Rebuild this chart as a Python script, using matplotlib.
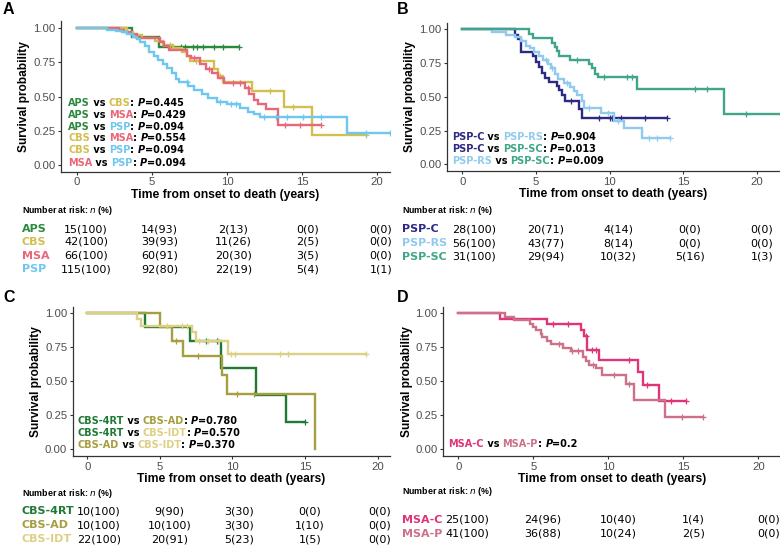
import numpy as np
import matplotlib
matplotlib.use('Agg')
from matplotlib import pyplot as plt
from matplotlib.offsetbox import TextArea, HPacker, AnnotationBbox

plt.rcParams['font.family'] = ['Liberation Sans', 'DejaVu Sans']

# ---- colours of the groups
colors = {
    'APS': '#2b8a3e', 'CBS': '#d2bf4e', 'MSA': '#e8687a', 'PSP': '#6dc7ee',
    'PSP-C': '#2d2a82', 'PSP-RS': '#90cbee', 'PSP-SC': '#3fa68a',
    'CBS-4RT': '#1f7a35', 'CBS-AD': '#a59f3f', 'CBS-IDT': '#ddd086',
    'MSA-C': '#df3578', 'MSA-P': '#cd7089',
}

# ---- panel A curves (time in years, survival after each step)
aps_t = [0, 3.65, 5.45, 10.8]
aps_s = [1, 0.933, 0.867, 0.867]
aps_c = [6.2, 6.9, 7.2, 7.7, 8.0, 8.4, 9.1, 9.7, 10.8]

cbs_t = [0, 3.3, 3.7, 4.3, 5.2, 5.7, 6.4, 7.0, 7.3, 7.55, 9.1, 9.4, 9.7, 11.7, 13.8, 15.7, 19.3]
cbs_s = [1, 0.976, 0.952, 0.928, 0.904, 0.88, 0.856, 0.83, 0.80, 0.76, 0.70, 0.65, 0.61, 0.544, 0.427, 0.22, 0.22]
cbs_c = [6.2, 7.9, 9.5, 12.9, 14.4, 19.3]

msa_t = [0, 2.8, 3.1, 3.6, 4.0, 5.5, 5.8, 6.1, 7.3, 7.6, 8.2, 8.6, 9.0, 9.4, 9.8, 11.2, 11.5, 11.8, 12.1, 12.6, 13.4, 16.3]
msa_s = [1, 0.985, 0.97, 0.955, 0.93, 0.90, 0.87, 0.84, 0.80, 0.78, 0.74, 0.70, 0.67, 0.64, 0.60, 0.56, 0.52, 0.476, 0.444, 0.407, 0.293, 0.293]
msa_c = [7.8, 8.8, 10.4, 10.9, 11.4, 13.9, 14.9, 16.3]

psp_t = [0, 2.0, 2.6, 3.0, 3.3, 3.7, 4.0, 4.2, 4.5, 4.8, 5.1, 5.4, 5.7, 6.0, 6.3, 6.6, 6.8, 7.4, 7.8, 8.3,
         8.7, 9.3, 10.0, 10.9, 11.4, 11.8, 12.2, 18.0, 20.9]
psp_s = [1, 0.99, 0.98, 0.97, 0.96, 0.94, 0.92, 0.90, 0.87, 0.83, 0.80, 0.77, 0.74, 0.71, 0.67, 0.63, 0.61, 0.58,
         0.55, 0.52, 0.49, 0.46, 0.444, 0.42, 0.39, 0.37, 0.349, 0.232, 0.232]
psp_c = [7.3, 9.5, 10.3, 10.6, 12.5, 13.3, 14.0, 15.1, 16.3, 19.3, 20.9]

# ---- panel B curves
pspc_t = [0, 3.58, 3.8, 4.0, 4.8, 5.0, 5.2, 5.4, 5.6, 5.9, 6.4, 6.6, 6.8, 7.0, 7.9, 8.1, 13.9]
pspc_s = [1, 0.96, 0.93, 0.835, 0.80, 0.76, 0.72, 0.68, 0.64, 0.61, 0.58, 0.55, 0.51, 0.47, 0.41, 0.34, 0.34]
pspc_c = [7.4, 9.3, 10.0, 10.2, 10.8, 12.4, 13.9]

psprs_t = [0, 2.0, 3.0, 3.6, 4.0, 4.3, 4.6, 4.9, 5.2, 5.5, 5.8, 6.0, 6.3, 6.5, 6.9, 7.3, 7.6, 7.8, 8.1, 8.3,
           9.4, 10.3, 11.0, 12.2, 14.1]
psprs_s = [1, 0.98, 0.96, 0.94, 0.91, 0.88, 0.86, 0.83, 0.80, 0.77, 0.74, 0.71, 0.67, 0.63, 0.60, 0.57, 0.54,
           0.51, 0.47, 0.42, 0.38, 0.32, 0.267, 0.198, 0.198]
psprs_c = [5.7, 6.1, 7.1, 8.6, 9.9, 10.6, 12.7, 13.2, 14.1]

pspsc_t = [0, 4.5, 4.8, 6.1, 6.3, 6.45, 6.6, 7.3, 8.6, 8.8, 9.0, 9.2, 11.9, 17.8, 21.6]
pspsc_s = [1, 0.968, 0.935, 0.90, 0.87, 0.84, 0.80, 0.77, 0.74, 0.71, 0.67, 0.645, 0.56, 0.37, 0.37]
pspsc_c = [7.8, 9.6, 11.2, 11.5, 15.8, 16.6, 19.3]

# ---- panel C curves
c4rt_t = [0, 3.97, 7.1, 9.2, 11.6, 13.7, 15.0]
c4rt_s = [1, 0.9, 0.8, 0.6, 0.4, 0.2, 0.2]
c4rt_c = [8.2, 8.9, 15.0]

cad_t = [0, 5.0, 5.85, 6.6, 9.25, 9.6, 15.7]
cad_s = [1, 0.9, 0.8, 0.686, 0.549, 0.41, 0.0]
cad_c = [6.1, 7.6, 10.3, 11.5]

cidt_t = [0, 3.45, 3.7, 7.2, 7.5, 9.7, 19.2]
cidt_s = [1, 0.955, 0.91, 0.865, 0.80, 0.70, 0.70]
cidt_c = [5.5, 6.5, 6.9, 7.7, 8.3, 9.0, 9.9, 10.2, 13.3, 13.8, 19.2]

# ---- panel D curves
msac_t = [0, 2.8, 5.9, 8.2, 8.4, 8.6, 9.4, 12.0, 12.3, 13.4, 15.2]
msac_s = [1, 0.96, 0.92, 0.875, 0.83, 0.73, 0.66, 0.565, 0.47, 0.355, 0.355]
msac_c = [6.3, 7.3, 8.5, 8.9, 9.2, 11.4, 12.6, 14.2, 15.2]

msap_t = [0, 3.1, 3.7, 4.8, 5.0, 5.2, 5.5, 5.6, 5.9, 6.2, 7.0, 7.5, 8.3, 8.5, 8.7, 9.2, 9.6, 11.2, 11.7, 13.8, 16.3]
msap_s = [1, 0.975, 0.95, 0.925, 0.90, 0.875, 0.85, 0.825, 0.80, 0.775, 0.745, 0.72, 0.68, 0.65, 0.62, 0.595,
          0.545, 0.48, 0.36, 0.24, 0.24]
msap_c = [6.7, 7.6, 8.0, 9.0, 10.4, 11.4, 14.9, 16.3]

# ---- p-values
pvals_a = [('APS', 'CBS', '0.445'), ('APS', 'MSA', '0.429'), ('APS', 'PSP', '0.094'),
           ('CBS', 'MSA', '0.554'), ('CBS', 'PSP', '0.094'), ('MSA', 'PSP', '0.094')]
pvals_b = [('PSP-C', 'PSP-RS', '0.904'), ('PSP-C', 'PSP-SC', '0.013'), ('PSP-RS', 'PSP-SC', '0.009')]
pvals_c = [('CBS-4RT', 'CBS-AD', '0.780'), ('CBS-4RT', 'CBS-IDT', '0.570'), ('CBS-AD', 'CBS-IDT', '0.370')]
pvals_d = [('MSA-C', 'MSA-P', '0.2')]

# ---- numbers at risk at 0, 5, 10, 15, 20 years
risk_times = [0, 5, 10, 15, 20]
risk_a = {'APS': ['15(100)', '14(93)', '2(13)', '0(0)', '0(0)'],
          'CBS': ['42(100)', '39(93)', '11(26)', '2(5)', '0(0)'],
          'MSA': ['66(100)', '60(91)', '20(30)', '3(5)', '0(0)'],
          'PSP': ['115(100)', '92(80)', '22(19)', '5(4)', '1(1)']}
risk_b = {'PSP-C': ['28(100)', '20(71)', '4(14)', '0(0)', '0(0)'],
          'PSP-RS': ['56(100)', '43(77)', '8(14)', '0(0)', '0(0)'],
          'PSP-SC': ['31(100)', '29(94)', '10(32)', '5(16)', '1(3)']}
risk_c = {'CBS-4RT': ['10(100)', '9(90)', '3(30)', '0(0)', '0(0)'],
          'CBS-AD': ['10(100)', '10(100)', '3(30)', '1(10)', '0(0)'],
          'CBS-IDT': ['22(100)', '20(91)', '5(23)', '1(5)', '0(0)']}
risk_d = {'MSA-C': ['25(100)', '24(96)', '10(40)', '1(4)', '0(0)'],
          'MSA-P': ['41(100)', '36(88)', '10(24)', '2(5)', '0(0)']}

W, H = 780, 554
fig = plt.figure(figsize=(W / 100, H / 100), dpi=100)
GREY = '#4d4d4d'


def px_axes(left, top, right, bottom):
    return fig.add_axes([left / W, 1 - bottom / H, (right - left) / W, (bottom - top) / H])


def setup(ax, xlim):
    ax.set_xlim(*xlim)
    ax.set_ylim(-0.05, 1.05)
    ax.set_xticks([0, 5, 10, 15, 20])
    ax.set_yticks([0, 0.25, 0.5, 0.75, 1.0])
    ax.set_yticklabels(['0.00', '0.25', '0.50', '0.75', '1.00'])
    for sp in ['top', 'right']:
        ax.spines[sp].set_visible(False)
    for sp in ['left', 'bottom']:
        ax.spines[sp].set_color('#333333')
        ax.spines[sp].set_linewidth(0.9)
    ax.tick_params(length=2.5, width=0.8, color='#333333', labelsize=8.2, labelcolor=GREY, pad=1.5)
    ax.set_xlabel('Time from onset to death (years)', fontsize=8.7, fontweight='bold', labelpad=1)
    ax.set_ylabel('Survival probability', fontsize=8.6, fontweight='bold', labelpad=2)


def draw_curve(ax, t, s, cens, color):
    ax.step(t, s, where='post', color=color, lw=1.7, solid_joinstyle='miter')
    t = np.asarray(t)
    s = np.asarray(s)
    idx = np.searchsorted(t, cens, side='right') - 1
    ax.plot(cens, s[idx], ls='none', marker='+', ms=4, mew=0.9, color=color)


def pvalues(ax, x, ys, pairs):
    for (g1, g2, p), y in zip(pairs, ys):
        parts = [(g1, colors[g1], 'normal'), (' vs ', 'black', 'normal'),
                 (g2, colors[g2], 'normal'), (': ', 'black', 'normal'),
                 ('P', 'black', 'italic'), ('=' + p, 'black', 'normal')]
        boxes = [TextArea(txt, textprops=dict(color=col, fontsize=7, fontweight='bold',
                                              fontstyle=sty, family='DejaVu Sans'))
                 for txt, col, sty in parts]
        hp = HPacker(children=boxes, align='baseline', pad=0, sep=0)
        ab = AnnotationBbox(hp, (x, y), xycoords='data', box_alignment=(0, 0.5), frameon=False, pad=0)
        ax.add_artist(ab)


def risk_table(x0, x20, label_x, head_y, row_ys, table):
    fig.text(label_x / W, 1 - head_y / H, 'Number at risk: $n$ (%)', fontsize=6.4, fontweight='bold',
             ha='left', va='center')
    for (name, vals), y in zip(table.items(), row_ys):
        fig.text(label_x / W, 1 - y / H, name, color=colors[name], fontsize=8, fontweight='bold',
                 family='DejaVu Sans', ha='left', va='center')
        for t, v in zip(risk_times, vals):
            x = x0 + (x20 - x0) * t / 20
            fig.text(x / W, 1 - y / H, v, fontsize=8, family='DejaVu Sans', ha='center', va='center')


# ---- panel A
axA = px_axes(61, 21.5, 390, 171.8)
setup(axA, (-1.07, 20.87))
draw_curve(axA, aps_t, aps_s, aps_c, colors['APS'])
draw_curve(axA, cbs_t, cbs_s, cbs_c, colors['CBS'])
draw_curve(axA, msa_t, msa_s, msa_c, colors['MSA'])
draw_curve(axA, psp_t, psp_s, psp_c, colors['PSP'])
pvalues(axA, -0.6, [0.454, 0.366, 0.280, 0.196, 0.110, 0.018], pvals_a)
risk_table(86, 381, 22, 210, [229, 242, 256, 269], risk_a)

# ---- panel B
axB = px_axes(447, 22.6, 780, 171)
setup(axB, (-1.04, 21.58))
draw_curve(axB, pspc_t, pspc_s, pspc_c, colors['PSP-C'])
draw_curve(axB, psprs_t, psprs_s, psprs_c, colors['PSP-RS'])
draw_curve(axB, pspsc_t, pspsc_s, pspsc_c, colors['PSP-SC'])
pvalues(axB, -0.72, [0.204, 0.113, 0.022], pvals_b)
risk_table(474, 762, 402, 210, [229, 243, 257], risk_b)

# ---- panel C
axC = px_axes(72.7, 306.5, 390, 456.1)
setup(axC, (-1.006, 20.85))
draw_curve(axC, c4rt_t, c4rt_s, c4rt_c, colors['CBS-4RT'])
draw_curve(axC, cad_t, cad_s, cad_c, colors['CBS-AD'])
draw_curve(axC, cidt_t, cidt_s, cidt_c, colors['CBS-IDT'])
pvalues(axC, -0.69, [0.208, 0.118, 0.032], pvals_c)
risk_table(99, 380, 22, 493, [511, 525, 539], risk_c)

# ---- panel D
axD = px_axes(443.3, 306.5, 780, 456.1)
setup(axD, (-1.0, 21.45))
draw_curve(axD, msac_t, msac_s, msac_c, colors['MSA-C'])
draw_curve(axD, msap_t, msap_s, msap_c, colors['MSA-P'])
pvalues(axD, -0.67, [0.039], pvals_d)
risk_table(467, 769, 402, 491, [520, 534], risk_d)

# ---- panel letters
for letter, x, y in [('A', 3, 10), ('B', 397, 10), ('C', 3, 298), ('D', 397, 298)]:
    fig.text(x / W, 1 - y / H, letter, fontsize=11.5, fontweight='bold', ha='left', va='center')

fig.savefig('out.png', dpi=100)
